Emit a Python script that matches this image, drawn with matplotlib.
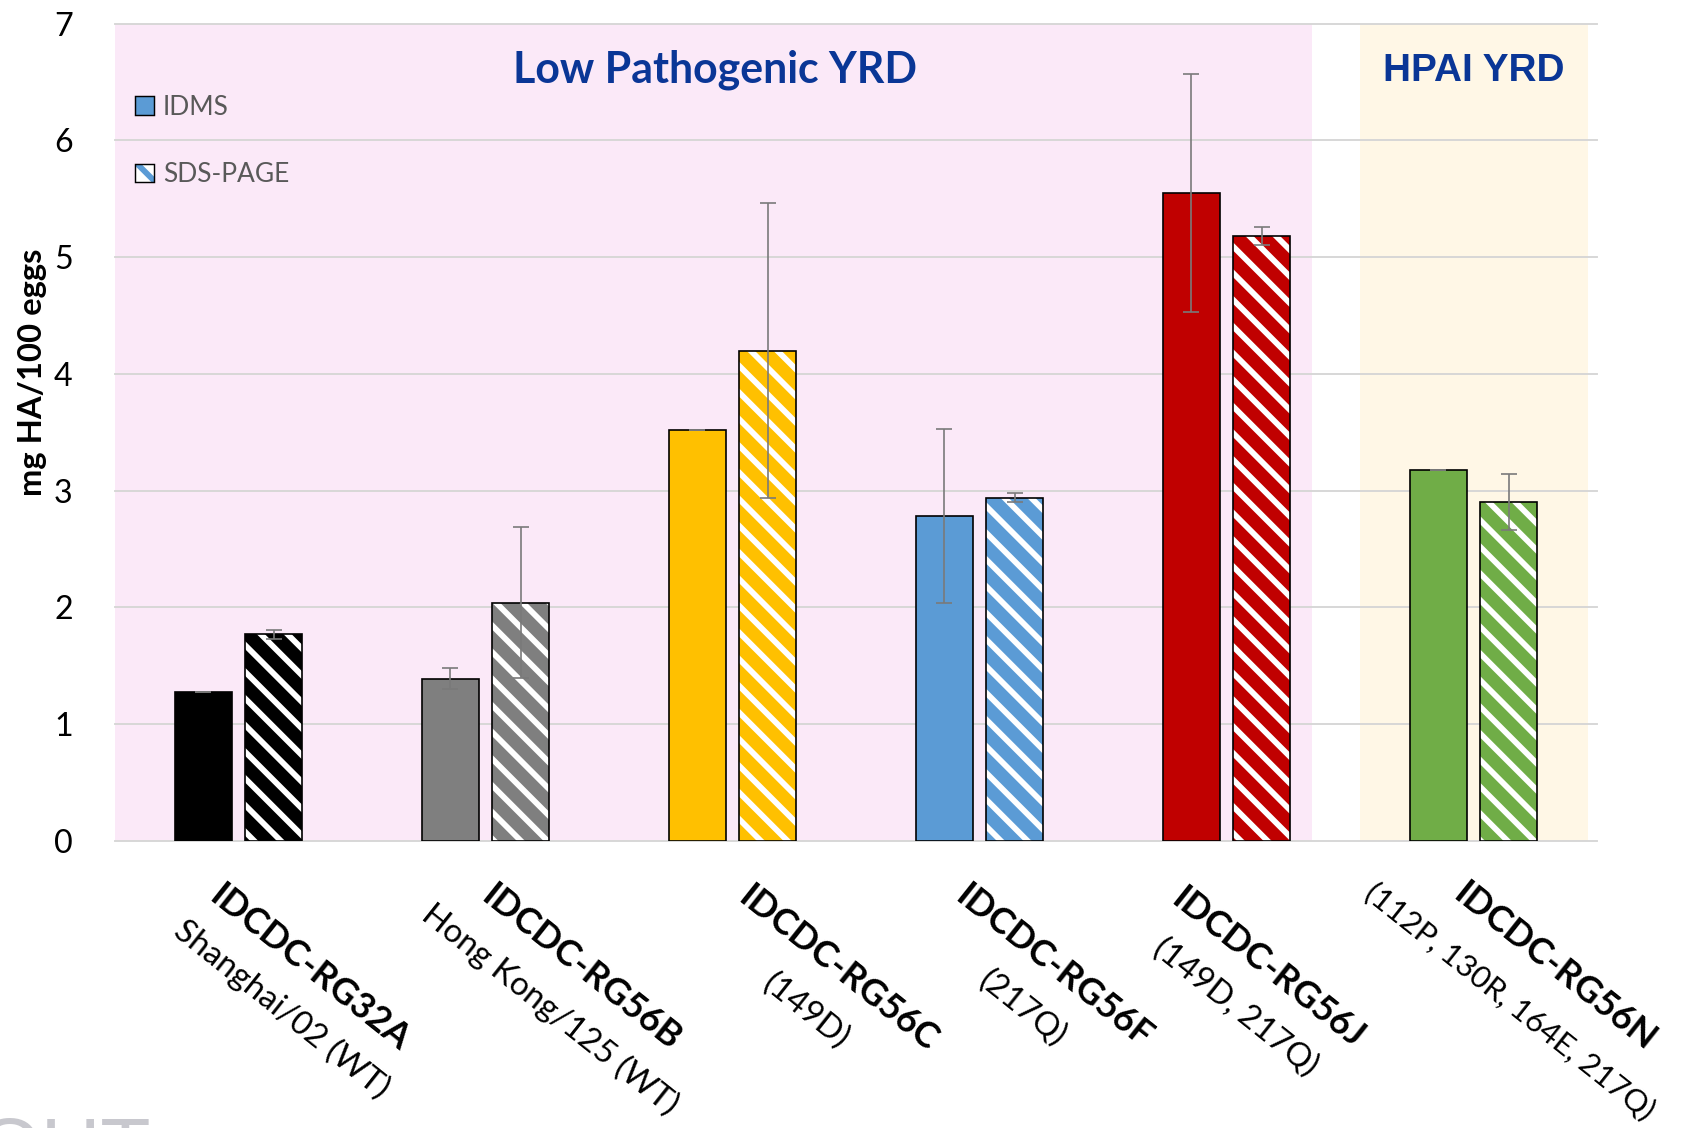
import matplotlib
matplotlib.use("Agg")
import matplotlib.pyplot as plt
from matplotlib.patches import Patch
from matplotlib.legend_handler import HandlerTuple
import numpy as np

# ---- data ----
strains = ["IDCDC-RG32A", "IDCDC-RG56B", "IDCDC-RG56C",
           "IDCDC-RG56F", "IDCDC-RG56J", "IDCDC-RG56N"]
descriptions = ["Shanghai/02 (WT)", "Hong Kong/125 (WT)", "(149D)",
                "(217Q)", "(149D, 217Q)", "(112P, 130R, 164E, 217Q)"]
idms = [1.28, 1.39, 3.52, 2.78, 5.55, 3.18]
idms_err = [0.0, 0.09, 0.0, 0.745, 1.02, 0.0]
sds_page = [1.77, 2.04, 4.20, 2.94, 5.18, 2.90]
sds_page_err = [0.04, 0.645, 1.26, 0.04, 0.075, 0.24]
bar_colors = ["#000000", "#7f7f7f", "#ffc000", "#5b9bd5", "#c00000", "#70ad47"]
yticks = [0, 1, 2, 3, 4, 5, 6, 7]

# ---- figure setup ----
W, H, DPI = 1686, 1128, 80
plt.rcParams["font.family"] = ["Lato", "DejaVu Sans"]
plt.rcParams["hatch.linewidth"] = 5.2
fig = plt.figure(figsize=(W / DPI, H / DPI), dpi=DPI)
ax = fig.add_axes([115 / W, 1 - 841 / H, (1597 - 115) / W, (841 - 23.5) / H])

x = np.arange(len(strains))
bw, off = 0.23, 0.1425

# shaded strain-class regions
ax.axvspan(-0.5, 4.347, ymin=0, ymax=1, color="#fbe9f8", lw=0, zorder=0.1)
ax.axvspan(4.541, 5.463, ymin=0, ymax=1, color="#fff7e6", lw=0, zorder=0.1)

# IDMS: solid bars
ax.bar(x - off, idms, bw, color=bar_colors, edgecolor="black", lw=1.5, zorder=2)
# SDS-PAGE: hatched bars with white stripes, black outline on top
ax.bar(x + off, sds_page, bw, color=bar_colors, edgecolor="white", lw=0,
       hatch="\\", zorder=2)
ax.bar(x + off, sds_page, bw, fill=False, edgecolor="black", lw=1.5, zorder=2.1)

err_kw = dict(fmt="none", ecolor="#7a7a7a", elinewidth=1.5, capsize=7,
              capthick=1.5, zorder=4)
ax.errorbar(x - off, idms, yerr=idms_err, **err_kw)
ax.errorbar(x + off, sds_page, yerr=sds_page_err, **err_kw)

# axes styling
ax.set_xlim(-0.5, 5.5)
ax.set_ylim(0, 7)
ax.set_yticks(yticks)
ax.set_yticklabels([str(t) for t in yticks])
ax.set_xticks([])
ax.tick_params(axis="y", length=0, pad=38, labelsize=29, labelcolor="#000000")
ax.set_axisbelow(True)
ax.yaxis.grid(True, color="#d6d6d6", lw=1.7)
for gl in ax.get_ygridlines():
    gl.set_clip_on(False)
for s in ax.spines.values():
    s.set_visible(False)
ax.patch.set_visible(False)

fig.canvas.draw()
renderer = fig.canvas.get_renderer()


def fit_width(t, target_px):
    rot = t.get_rotation()
    t.set_rotation(0)
    w = t.get_window_extent(renderer).width
    t.set_fontsize(t.get_fontsize() * target_px / w)
    t.set_rotation(rot)
    return t.get_fontsize()


# region titles
t1 = ax.text(1.93, 6.495, "Low Pathogenic YRD", ha="center", va="baseline",
             fontsize=30, fontweight="bold", color="#0a3696")
fit_width(t1, 405)
t2 = ax.text(5.0, 6.51, "HPAI YRD", ha="center", va="baseline",
             fontsize=30, fontweight="bold", color="#0a3696",
             family=["Liberation Sans", "DejaVu Sans"])
fit_width(t2, 182)

# y-axis title
yl = fig.text(33 / W, 1 - 372 / H, "mg HA/100 eggs", rotation=90, ha="center",
              va="center", fontsize=24, fontweight="bold")
fit_width(yl, 247)

# category labels: bold strain name above its description, rotated
bold_off = [(71, 127), (95, 127), (105, 128), (74, 125), (41, 127), (81, 126)]
desc_off = [(43, 168), (65, 168), (73, 170), (43, 168), (9, 166), (36, 160)]
px2pt = 72 / DPI
probe_b = fig.text(0, 0, strains[0], fontsize=28, fontweight="bold")
fs_bold = fit_width(probe_b, 245)
probe_b.remove()
probe_n = fig.text(0, 0, descriptions[0], fontsize=28)
fs_norm = fit_width(probe_n, 265)
probe_n.remove()
ANG = -38.5
desc_texts = []
for i in range(len(strains)):
    ax.annotate(strains[i], xy=(x[i], 0), xycoords="data",
                xytext=(bold_off[i][0] * px2pt, -bold_off[i][1] * px2pt),
                textcoords="offset points", rotation=ANG, rotation_mode="anchor",
                ha="center", va="center", fontsize=fs_bold, fontweight="bold",
                annotation_clip=False)
    desc_texts.append(
        ax.annotate(descriptions[i], xy=(x[i], 0), xycoords="data",
                    xytext=(desc_off[i][0] * px2pt, -desc_off[i][1] * px2pt),
                    textcoords="offset points", rotation=ANG,
                    rotation_mode="anchor", ha="center", va="center",
                    fontsize=fs_norm, annotation_clip=False))
# keep the longest description within the figure's lower-right corner
fit_width(desc_texts[-1], 362)

# legend
probe_l = fig.text(0, 0, "SDS-PAGE", fontsize=22)
fs_leg = fit_width(probe_l, 127)
probe_l.remove()
fs_leg_px = fs_leg / px2pt
h_idms = Patch(facecolor="#5b9bd5", edgecolor="black", lw=1.3)
h_sds = (Patch(facecolor="white", edgecolor="#5b9bd5", lw=0, hatch="\\"),
         Patch(fill=False, edgecolor="black", lw=1.3))
leg = ax.legend([h_idms, h_sds], ["IDMS", "SDS-PAGE"],
                handler_map={tuple: HandlerTuple(ndivide=1, pad=0)},
                loc="upper left", bbox_to_anchor=(135 / W, 1 - 95 / H),
                bbox_transform=fig.transFigure, frameon=False,
                fontsize=fs_leg, labelcolor="#595959", borderpad=0,
                borderaxespad=0, handlelength=19 / fs_leg_px,
                handleheight=19 / fs_leg_px, handletextpad=9 / fs_leg_px,
                labelspacing=1.6)

# faint mark at the lower-left corner
fig.text(-23 / W, 1 - 1175 / H, "OUT", ha="left", va="baseline", fontsize=74,
         color="#c8c8ce", family=["Liberation Sans", "DejaVu Sans"])

fig.savefig("out.png", dpi=DPI)
